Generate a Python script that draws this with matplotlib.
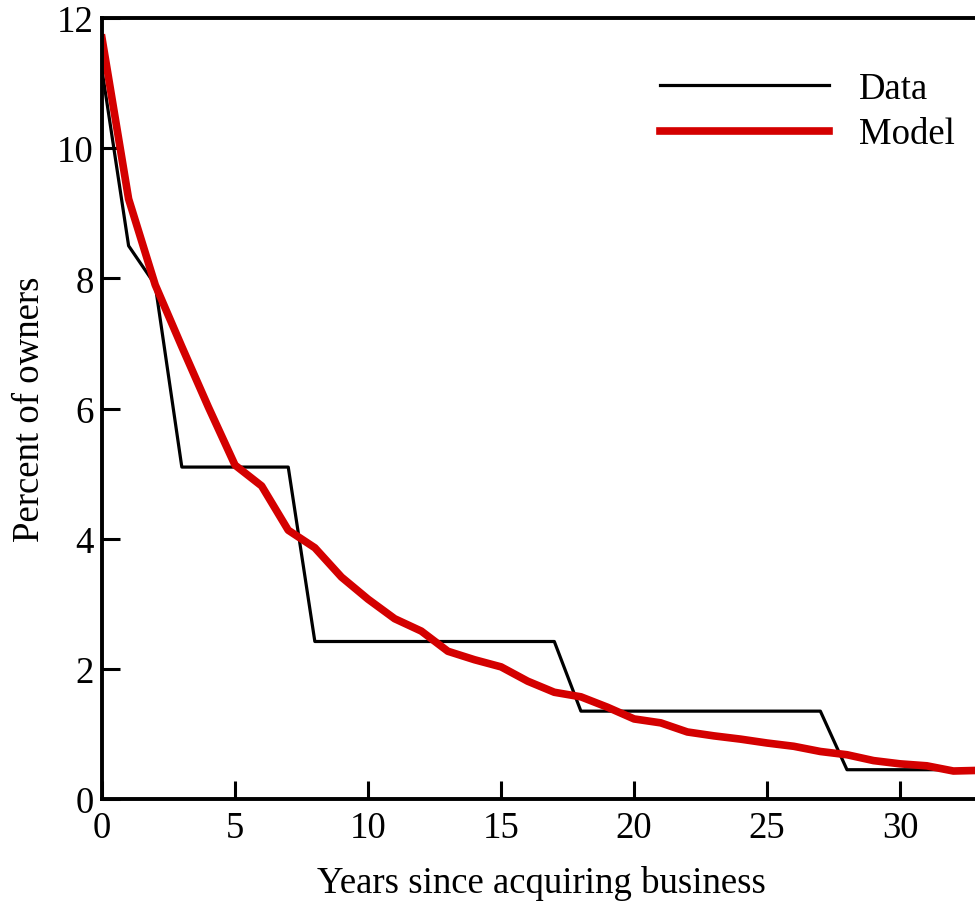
import matplotlib.pyplot as plt

plt.rcParams['font.family'] = ['Liberation Serif', 'DejaVu Serif']

years = list(range(0, 34))
data_pct = [11.2, 8.5, 7.9, 5.1, 5.1, 5.1, 5.1, 5.1, 2.42, 2.42,
            2.42, 2.42, 2.42, 2.42, 2.42, 2.42, 2.42, 2.42, 1.35, 1.35,
            1.35, 1.35, 1.35, 1.35, 1.35, 1.35, 1.35, 1.35, 0.45, 0.45,
            0.45, 0.45, 0.45, 0.45]
model_pct = [11.69, 9.22, 7.9, 6.95, 6.02, 5.13, 4.81, 4.13, 3.86, 3.41,
             3.07, 2.77, 2.58, 2.27, 2.14, 2.03, 1.81, 1.64, 1.57, 1.41,
             1.23, 1.17, 1.03, 0.97, 0.92, 0.86, 0.81, 0.73, 0.68, 0.59,
             0.54, 0.51, 0.43, 0.44]

fig = plt.figure(figsize=(9.75, 9.04), dpi=100)
ax = fig.add_axes([102 / 975, 104 / 904, 878 / 975, 781 / 904])

ax.plot(years, data_pct, color='black', lw=2.3, label='Data')
ax.plot(years, model_pct, color='#d40000', lw=5.5, label='Model')

ax.set_xlim(0, 33)
ax.set_ylim(0, 12)
ax.set_xticks([0, 5, 10, 15, 20, 25, 30])
ax.set_yticks([0, 2, 4, 6, 8, 10, 12])

for side in ['left', 'bottom', 'top']:
    ax.spines[side].set_linewidth(2.8)
ax.spines['right'].set_visible(False)

ax.tick_params(direction='in', length=13, width=2.2, labelsize=26.5)
ax.tick_params(axis='x', pad=8)
ax.tick_params(axis='y', pad=6)

ax.set_xlabel('Years since acquiring business', fontsize=26.5, labelpad=15)
ax.set_ylabel('Percent of owners', fontsize=26.5, labelpad=7)

ax.legend(loc='upper right', bbox_to_anchor=(1.009, 0.974), frameon=False,
          fontsize=26.5, handlelength=4.6, handletextpad=0.8, labelspacing=0.3)

fig.savefig('out.png', dpi=100)
